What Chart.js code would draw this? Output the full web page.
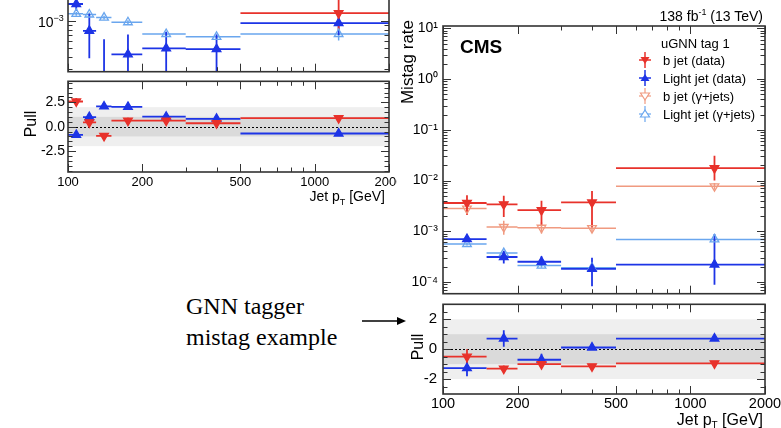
<!DOCTYPE html>
<html>
<head>
<meta charset="utf-8">
<script src="https://cdn.jsdelivr.net/npm/chart.js@4.4.1/dist/chart.umd.min.js"></script>
<style>
body{margin:0;width:781px;height:428px;overflow:hidden;background:#fff;position:relative;font-family:"Liberation Sans",Arial,sans-serif;color:#000}
.box{position:absolute}
.t{position:absolute;white-space:nowrap;line-height:1}
.rot{position:absolute;white-space:nowrap;line-height:1;transform:translate(-50%,-50%) rotate(-90deg)}
.leg{position:absolute;left:636px;display:flex;align-items:center;font-size:13px;line-height:1;white-space:nowrap}
.leg svg{margin-right:9px}
</style>
</head>
<body>
<!-- left panel (cropped plot) -->
<div class="box" style="left:0;top:-40px"><canvas id="lt" width="397" height="118"></canvas></div>
<div class="box" style="left:0;top:75px"><canvas id="lp" width="397" height="125"></canvas></div>
<div class="t" style="left:38px;top:14px;font-size:14px">10<sup style="font-size:9px">−3</sup></div>
<div class="rot" style="left:31px;top:124px;font-size:16px">Pull</div>
<div class="t" style="right:396px;top:189px;font-size:14px">Jet p<sub style="font-size:9px">T</sub> [GeV]</div>

<!-- right panel -->
<div class="box" style="left:397px;top:0"><canvas id="rt" width="384" height="300"></canvas></div>
<div class="box" style="left:397px;top:298px"><canvas id="rp" width="384" height="130"></canvas></div>
<div class="rot" style="left:407px;top:62px;font-size:17px">Mistag rate</div>
<div class="rot" style="left:418px;top:347px;font-size:16px">Pull</div>
<div class="t" style="right:18px;top:412px;font-size:16px">Jet p<sub style="font-size:10px">T</sub> [GeV]</div>
<div class="t" style="right:18px;top:8px;font-size:14px">138 fb<sup style="font-size:9px">-1</sup> (13 TeV)</div>
<div class="t" style="left:460px;top:37px;font-size:19px;font-weight:bold">CMS</div>
<div class="t" style="left:661px;top:37px;font-size:13px">uGNN tag 1</div>
<div class="leg" style="top:52px"><svg width="18" height="16"><line x1="9" y1="0" x2="9" y2="16" stroke="#e8322b" stroke-width="1.5"/><line x1="3" y1="8" x2="15" y2="8" stroke="#e8322b" stroke-width="1.5"/><polygon points="4.5,5 13.5,5 9,12" fill="#e8322b"/></svg>b jet (data)</div>
<div class="leg" style="top:70px"><svg width="18" height="16"><line x1="9" y1="0" x2="9" y2="16" stroke="#1d34e6" stroke-width="1.5"/><line x1="3" y1="8" x2="15" y2="8" stroke="#1d34e6" stroke-width="1.5"/><polygon points="4.5,11 13.5,11 9,4" fill="#1d34e6"/></svg>Light jet (data)</div>
<div class="leg" style="top:88px"><svg width="18" height="16"><line x1="9" y1="0" x2="9" y2="16" stroke="#f09a80" stroke-width="1.2"/><line x1="3" y1="8" x2="15" y2="8" stroke="#f09a80" stroke-width="1.2"/><polygon points="4.5,5 13.5,5 9,12" fill="#fff" stroke="#f09a80" stroke-width="1.2"/></svg>b jet (γ+jets)</div>
<div class="leg" style="top:106px"><svg width="18" height="16"><line x1="9" y1="0" x2="9" y2="16" stroke="#6aa6ee" stroke-width="1.2"/><line x1="3" y1="8" x2="15" y2="8" stroke="#6aa6ee" stroke-width="1.2"/><polygon points="4.5,11 13.5,11 9,4" fill="#fff" stroke="#6aa6ee" stroke-width="1.2"/></svg>Light jet (γ+jets)</div>

<!-- annotation -->
<div class="t" style="left:186px;top:291px;font-family:'Liberation Serif','Times New Roman',serif;font-size:24px;line-height:31px">GNN tagger<br>mistag example</div>
<svg class="box" style="left:360px;top:314px" width="48" height="14"><line x1="2" y1="7" x2="39" y2="7" stroke="#000" stroke-width="1.3"/><polygon points="37,3 46,7 37,11" fill="#000"/></svg>

<script>
// bins / categories
const leftEdges = [100, 115, 130, 150, 200, 300, 500, 2000];
const leftCenters = [108, 122, 140, 175, 250, 400, 1250];
const rightEdges = [100, 150, 200, 300, 500, 2000];
const rightCenters = [125, 176, 250, 400, 1250];

// left plot, mistag rate (only lower part is visible)
const lBData = [3.5e-3, 3.2e-3, 3.0e-3, 3.3e-3, 2.8e-3, 3.4e-3, 1.22e-3];
const lBDataUp = [4.5e-3, 4.2e-3, 4.0e-3, 4.3e-3, 3.6e-3, 4.4e-3, 2.5e-3];
const lBDataDn = [2.6e-3, 2.4e-3, 2.2e-3, 2.5e-3, 2.1e-3, 2.5e-3, 8.0e-4];
const lBGam = [2.6e-3, 2.9e-3, 3.6e-3, 2.6e-3, 2.4e-3, 3.0e-3, 2.5e-3];
const lBGamUp = [2.8e-3, 3.1e-3, 3.8e-3, 2.8e-3, 2.6e-3, 3.2e-3, 2.8e-3];
const lBGamDn = [2.4e-3, 2.7e-3, 3.4e-3, 2.4e-3, 2.2e-3, 2.8e-3, 2.2e-3];
const lLData = [1.54e-3, 7.8e-4, 2.0e-4, 4.3e-4, 5.0e-4, 4.9e-4, 9.5e-4];
const lLDataUp = [2.5e-3, 1.2e-3, 6.3e-4, 7.1e-4, 7.6e-4, 7.1e-4, 1.15e-3];
const lLDataDn = [1.3e-3, 3.9e-4, 1.0e-5, 1.0e-4, 2.0e-4, 2.0e-4, 7.0e-4];
const lLGam = [1.2e-3, 1.18e-3, 1.09e-3, 9.7e-4, 7.2e-4, 6.7e-4, 7.2e-4];
const lLGamUp = [1.26e-3, 1.24e-3, 1.14e-3, 1.02e-3, 7.6e-4, 7.1e-4, 8.0e-4];
const lLGamDn = [1.14e-3, 1.12e-3, 1.04e-3, 9.2e-4, 6.8e-4, 6.3e-4, 6.1e-4];

// left plot, pulls
const lPullB = [2.58, 0.44, -0.95, 0.62, 0.62, 0.35, 0.87];
const lPullBErr = [0.35, 0.3, 0.3, 0.3, 0.2, 0.2, 0.15];
const lPullL = [-0.85, 0.98, 2.07, 2.02, 1.02, 0.8, -0.7];
const lPullLErr = [0.2, 0.35, 0.2, 0.15, 0.2, 0.2, 0.1];

// right plot, mistag rate
const rBData = [3.6e-3, 3.4e-3, 2.6e-3, 3.7e-3, 1.75e-2];
const rBDataUp = [5.1e-3, 5.0e-3, 4.0e-3, 6.2e-3, 3.1e-2];
const rBDataDn = [2.1e-3, 1.9e-3, 1.3e-3, 1.2e-3, 1.0e-2];
const rBGam = [2.8e-3, 1.21e-3, 1.17e-3, 1.15e-3, 7.7e-3];
const rBGamUp = [3.2e-3, 1.6e-3, 1.5e-3, 1.4e-3, 8.9e-3];
const rBGamDn = [2.4e-3, 0.85e-3, 0.9e-3, 0.93e-3, 6.6e-3];
const rLData = [7.0e-4, 3.1e-4, 2.5e-4, 1.8e-4, 2.2e-4];
const rLDataUp = [7.8e-4, 4.1e-4, 3.2e-4, 3.0e-4, 8.8e-4];
const rLDataDn = [6.2e-4, 2.3e-4, 2.1e-4, 8.2e-5, 8.8e-5];
const rLGam = [5.6e-4, 3.7e-4, 2.1e-4, 1.9e-4, 6.9e-4];
const rLGamUp = [6.0e-4, 4.0e-4, 2.3e-4, 2.0e-4, 7.5e-4];
const rLGamDn = [5.2e-4, 3.4e-4, 1.9e-4, 1.8e-4, 6.3e-4];

// right plot, pulls
const rPullB = [-0.5, -1.3, -1.0, -1.15, -0.95];
const rPullBErr = [0.5, 0.2, 0.2, 0.15, 0.15];
const rPullL = [-1.27, 0.71, -0.71, 0.11, 0.71];
const rPullLErr = [0.55, 0.55, 0.4, 0.1, 0.1];

// tick values and labels
const xTicks = [100, 200, 300, 400, 500, 600, 700, 800, 900, 1000, 2000];
const xLabeled = [100, 200, 500, 1000, 2000];
const rLogTicks = [6e-5, 7e-5, 8e-5, 9e-5];
for (let e = -4; e <= 1; e++) for (let m = 1; m <= 9; m++) rLogTicks.push(m * Math.pow(10, e));
const decadeLabels = {'-4': '10⁻⁴', '-3': '10⁻³', '-2': '10⁻²', '-1': '10⁻¹', '0': '10⁰', '1': '10¹'};
const lLogTicks = [3e-4, 4e-4, 5e-4, 6e-4, 7e-4, 8e-4, 9e-4, 1e-3, 2e-3, 3e-3, 4e-3];
const rPullTicks = [-3, -2.5, -2, -1.5, -1, -0.5, 0, 0.5, 1, 1.5, 2, 2.5, 3];
const rPullLabeled = [-2, 0, 2];
const lPullTicks = [-4.5, -4, -3.5, -3, -2.5, -2, -1.5, -1, -0.5, 0, 0.5, 1, 1.5, 2, 2.5, 3, 3.5, 4, 4.5];
const lPullLabeled = [-2.5, 0, 2.5];

const RED = '#e8322b', SALMON = '#f09a80', BLUE = '#1d34e6', LBLUE = '#6aa6ee';

function isDecade(v) {
  const l = Math.log10(v);
  return Math.abs(l - Math.round(l)) < 1e-9;
}

function series(edges, centers, vals, lo, hi, color, down, open, lineOrder) {
  const lines = [], errs = [], pts = [];
  vals.forEach((v, i) => {
    lines.push({x: edges[i], y: v}, {x: edges[i + 1], y: v}, {x: edges[i + 1], y: null});
    errs.push({x: centers[i], y: lo[i]}, {x: centers[i], y: hi[i]}, {x: centers[i], y: null});
    pts.push({x: centers[i], y: v});
  });
  const lw = open ? 1.5 : 1.8;
  return [
    {data: pts, showLine: false, pointStyle: 'triangle', rotation: down ? 180 : 0,
     pointRadius: 5, pointBackgroundColor: open ? 'rgba(255,255,255,0)' : color,
     pointBorderColor: color, pointBorderWidth: 1.3, order: 0},
    {data: lines, borderColor: color, borderWidth: lw, pointRadius: 0, spanGaps: false, order: lineOrder},
    {data: errs, borderColor: color, borderWidth: lw, pointRadius: 0, spanGaps: false, order: lineOrder}
  ];
}

function pullSeries(edges, centers, vals, err, color, down) {
  const lo = vals.map((v, i) => v - err[i]);
  const hi = vals.map((v, i) => v + err[i]);
  return series(edges, centers, vals, lo, hi, color, down, false, 1);
}

// per-canvas frame settings (kept outside chart options so functions aren't treated as scriptable)
const frameCfg = {};

// frame with inward ticks on all four sides + pull bands
const cmsFrame = {
  id: 'cmsFrame',
  beforeDatasetsDraw(chart) {
    const o = frameCfg[chart.canvas.id];
    if (!o.bands) return;
    const {ctx, chartArea: a, scales: {y}} = chart;
    ctx.save();
    ctx.fillStyle = '#efefef';
    let y1 = y.getPixelForValue(2), y2 = y.getPixelForValue(-2);
    ctx.fillRect(a.left, y1, a.right - a.left, y2 - y1);
    ctx.fillStyle = '#dadada';
    y1 = y.getPixelForValue(1); y2 = y.getPixelForValue(-1);
    ctx.fillRect(a.left, y1, a.right - a.left, y2 - y1);
    const y0 = Math.round(y.getPixelForValue(0)) + 0.5;
    ctx.setLineDash([2, 2]);
    ctx.strokeStyle = '#000';
    ctx.lineWidth = 1;
    ctx.beginPath(); ctx.moveTo(a.left, y0); ctx.lineTo(a.right, y0); ctx.stroke();
    ctx.restore();
  },
  afterDraw(chart) {
    const o = frameCfg[chart.canvas.id];
    const {ctx, chartArea: a, scales: {x, y}} = chart;
    ctx.save();
    ctx.strokeStyle = '#333';
    ctx.lineWidth = 1;
    ctx.beginPath();
    x.ticks.forEach(t => {
      const px = Math.round(x.getPixelForValue(t.value)) + 0.5;
      const L = xLabeled.includes(t.value) ? 8 : 4.5;
      ctx.moveTo(px, a.bottom); ctx.lineTo(px, a.bottom - L);
      ctx.moveTo(px, a.top); ctx.lineTo(px, a.top + L);
    });
    y.ticks.forEach(t => {
      const py = Math.round(y.getPixelForValue(t.value)) + 0.5;
      if (py < a.top || py > a.bottom) return;
      const L = o.yMajor(t.value) ? 8 : 4.5;
      ctx.moveTo(a.left, py); ctx.lineTo(a.left + L, py);
      ctx.moveTo(a.right, py); ctx.lineTo(a.right - L, py);
    });
    ctx.stroke();
    ctx.lineWidth = 1.6;
    ctx.strokeRect(a.left, a.top, a.right - a.left, a.bottom - a.top);
    ctx.restore();
  }
};

function makeChart(id, cfg) {
  frameCfg[id] = {bands: cfg.bands, yMajor: cfg.yMajor};
  return new Chart(document.getElementById(id), {
    type: 'line',
    data: {datasets: cfg.datasets},
    plugins: [cmsFrame],
    options: {
      responsive: false,
      animation: false,
      layout: {padding: {top: cfg.padTop, right: cfg.padRight, left: 0, bottom: 0}},
      plugins: {
        legend: {display: false},
        tooltip: {enabled: false}
      },
      scales: {
        x: {
          type: 'logarithmic', min: 100, max: 2000,
          grid: {display: false, drawTicks: false}, border: {display: false},
          afterBuildTicks: s => { s.ticks = xTicks.map(v => ({value: v})); },
          afterFit: s => { s.height = cfg.xh; s.paddingLeft = 0; s.paddingRight = 0; },
          ticks: {display: cfg.xLabels, autoSkip: false, maxRotation: 0, padding: cfg.xPad, color: '#000',
                  font: {family: 'Liberation Sans', size: cfg.xFont},
                  callback: v => xLabeled.includes(v) ? String(v) : ''}
        },
        y: {
          type: cfg.yType, min: cfg.yMin, max: cfg.yMax,
          grid: {display: false, drawTicks: false}, border: {display: false},
          afterBuildTicks: s => { s.ticks = cfg.yTicks.map(v => ({value: v})); },
          afterFit: s => { s.width = cfg.yw; s.paddingTop = 0; s.paddingBottom = 0; },
          ticks: {display: cfg.yLabels !== false, autoSkip: false, padding: cfg.yPad, color: '#000',
                  font: {family: 'Liberation Sans', size: cfg.yFont},
                  callback: cfg.yLabel}
        }
      }
    }
  });
}

const logLabel = v => isDecade(v) ? decadeLabels[String(Math.round(Math.log10(v)))] : '';

// left top (cropped; its one visible tick label is placed as page text above)
makeChart('lt', {
  datasets: [
    ...series(leftEdges, leftCenters, lBData, lBDataDn, lBDataUp, RED, true, false, 1),
    ...series(leftEdges, leftCenters, lLData, lLDataDn, lLDataUp, BLUE, false, false, 1),
    ...series(leftEdges, leftCenters, lBGam, lBGamDn, lBGamUp, SALMON, true, true, 2),
    ...series(leftEdges, leftCenters, lLGam, lLGamDn, lLGamUp, LBLUE, false, true, 2)
  ],
  padTop: 6, padRight: 8, xh: 2, yw: 68, xLabels: false, xPad: 0, xFont: 13,
  yType: 'logarithmic', yMin: 2.77e-4, yMax: 4e-3, yTicks: lLogTicks, yPad: 11, yFont: 14,
  yLabel: logLabel, yMajor: isDecade, bands: false, yLabels: false
});

// left pull
makeChart('lp', {
  datasets: [
    ...pullSeries(leftEdges, leftCenters, lPullB, lPullBErr, RED, true),
    ...pullSeries(leftEdges, leftCenters, lPullL, lPullLErr, BLUE, false)
  ],
  padTop: 6, padRight: 8, xh: 28, yw: 68, xLabels: true, xPad: 3, xFont: 13,
  yType: 'linear', yMin: -4.65, yMax: 4.65, yTicks: lPullTicks, yPad: 3, yFont: 14,
  yLabel: v => lPullLabeled.includes(v) ? v.toFixed(1) : '',
  yMajor: v => lPullLabeled.includes(v), bands: true
});

// right top
makeChart('rt', {
  datasets: [
    ...series(rightEdges, rightCenters, rBData, rBDataDn, rBDataUp, RED, true, false, 1),
    ...series(rightEdges, rightCenters, rLData, rLDataDn, rLDataUp, BLUE, false, false, 1),
    ...series(rightEdges, rightCenters, rBGam, rBGamDn, rBGamUp, SALMON, true, true, 2),
    ...series(rightEdges, rightCenters, rLGam, rLGamDn, rLGamUp, LBLUE, false, true, 2)
  ],
  padTop: 26, padRight: 16, xh: 2, yw: 46, xLabels: false, xPad: 0, xFont: 15,
  yType: 'logarithmic', yMin: 5.85e-5, yMax: 11.2, yTicks: rLogTicks, yPad: 5, yFont: 14,
  yLabel: logLabel, yMajor: isDecade, bands: false
});

// right pull
makeChart('rp', {
  datasets: [
    ...pullSeries(rightEdges, rightCenters, rPullB, rPullBErr, RED, true),
    ...pullSeries(rightEdges, rightCenters, rPullL, rPullLErr, BLUE, false)
  ],
  padTop: 4, padRight: 16, xh: 34, yw: 46, xLabels: true, xPad: 1, xFont: 14.5,
  yType: 'linear', yMin: -3, yMax: 3, yTicks: rPullTicks, yPad: 6, yFont: 15,
  yLabel: v => rPullLabeled.includes(v) ? String(v) : '',
  yMajor: v => rPullLabeled.includes(v), bands: true
});
</script>
</body>
</html>
